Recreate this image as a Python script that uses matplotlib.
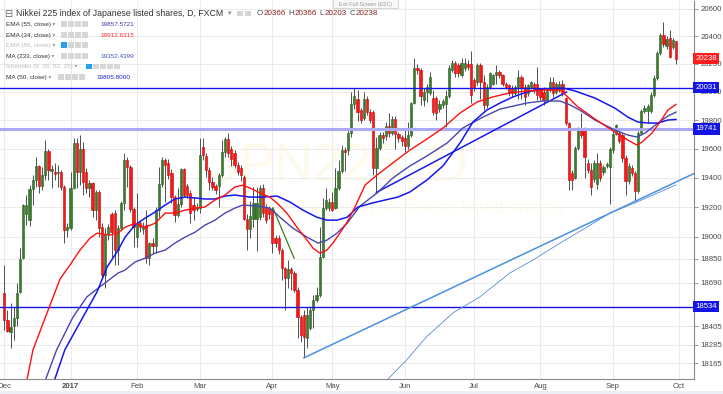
import numpy as np
import pandas as pd
import matplotlib
matplotlib.use("Agg")
import matplotlib.pyplot as plt
from matplotlib.patches import Rectangle
from matplotlib.ticker import FixedLocator, FixedFormatter, NullLocator, NullFormatter

plt.rcParams["font.family"] = ["Liberation Sans", "DejaVu Sans"]

# JPN225 daily candles (2 Dec 2016 .. 29 Sep 2017)
opens = [
    18624, 18447, 18369, 18408, 18460, 18631, 18855, 19150, 19111, 19323,
    19385, 19482, 19344, 19420, 19585, 19447, 19440, 19430, 19440, 19337,
    19043, 19057, 19330, 19641, 19440, 19600, 19440, 19330, 19364, 19179,
    19303, 19063, 18743, 19016, 19152, 19159, 18909, 19057, 19227, 19523,
    19475, 19186, 18996, 19090, 19050, 19077, 18855, 18956, 18936, 19179,
    19357, 19523, 19503, 19434, 19268, 19145, 19220, 19461, 19344, 19296,
    19214, 19186, 19193, 19613, 19551, 19454, 19371, 19344, 19344, 19420,
    19579, 19669, 19600, 19569, 19489, 19466, 19408, 19122, 19054, 19122,
    19122, 19130, 19330, 19193, 19193, 19186, 18990, 18990, 18909, 18790,
    18724, 18783, 18756, 18644, 18467, 18480, 18330, 18395, 18512, 18578,
    18611, 18862, 19193, 19193, 19234, 19193, 19330, 19447, 19592, 19592,
    19711, 19915, 19950, 19872, 19816, 19950, 19860, 19860, 19468, 19606,
    19697, 19690, 19760, 19711, 19808, 19704, 19680, 19676, 19620, 19700,
    19922, 20170, 20157, 19943, 20000, 19993, 19957, 19957, 19880, 19908,
    19915, 19972, 20157, 20206, 20190, 20120, 20170, 20200, 20200, 20085,
    20070, 20190, 20070, 19908, 20035, 20060, 20120, 20140, 20120, 20060,
    20050, 20030, 19990, 20035, 20106, 20035, 19990, 20035, 20060, 20060,
    20014, 20000, 19943, 20014, 20070, 20000, 20014, 20060, 19957, 19781,
    19430, 19400, 19606, 19746, 19732, 19503, 19454, 19392, 19357, 19500,
    19440, 19480, 19475, 19592, 19704, 19711, 19697, 19537, 19378, 19468,
    19434, 19310, 19711, 19865, 19865, 19865, 19979, 20100, 20280, 20410,
    20330, 20390, 20325, 20366,
]
highs = [
    18809, 18512, 18558, 18532, 18690, 18922, 19220, 19282, 19350, 19420,
    19544, 19489, 19475, 19662, 19600, 19489, 19503, 19489, 19454, 19350,
    19090, 19440, 19676, 19676, 19697, 19648, 19468, 19385, 19371, 19316,
    19316, 19090, 19057, 19084, 19166, 19179, 19077, 19241, 19572, 19544,
    19489, 19200, 19296, 19111, 19100, 19179, 18963, 18990, 19200, 19475,
    19544, 19537, 19530, 19460, 19282, 19330, 19468, 19468, 19357, 19316,
    19268, 19230, 19676, 19676, 19572, 19475, 19406, 19357, 19434, 19662,
    19683, 19711, 19620, 19590, 19510, 19489, 19420, 19150, 19240, 19337,
    19337, 19350, 19357, 19220, 19210, 19200, 19010, 19010, 18922, 18796,
    18842, 18796, 18770, 18664, 18480, 18512, 18532, 18530, 18611, 18664,
    19063, 19262, 19330, 19260, 19300, 19468, 19523, 19627, 19610, 19740,
    20000, 20030, 20014, 19890, 20000, 19970, 19880, 19872, 19683, 19720,
    19720, 19790, 19850, 19830, 19830, 19715, 19700, 19732, 19790, 19930,
    20240, 20200, 20170, 20030, 20060, 20140, 20014, 19970, 19940, 19950,
    20014, 20190, 20230, 20220, 20210, 20240, 20240, 20230, 20290, 20100,
    20210, 20210, 20120, 20060, 20145, 20130, 20190, 20160, 20130, 20070,
    20060, 20050, 20050, 20160, 20120, 20060, 20060, 20080, 20070, 20180,
    20030, 20035, 20030, 20106, 20106, 20070, 20080, 20085, 19965, 19790,
    19454, 19620, 19750, 19850, 19750, 19530, 19503, 19520, 19570, 19520,
    19490, 19510, 19610, 19730, 19774, 19740, 19710, 19560, 19500, 19490,
    19450, 19725, 19880, 19910, 19915, 20000, 20120, 20290, 20420, 20500,
    20400, 20445, 20390, 20366,
]
lows = [
    18382, 18369, 18265, 18317, 18408, 18624, 18849, 19077, 19070, 19214,
    19337, 19296, 19316, 19385, 19385, 19330, 19385, 19337, 19316, 18956,
    18996, 19043, 19323, 19330, 19350, 19282, 19296, 19268, 19131, 19111,
    18996, 18730, 18657, 18976, 18862, 18809, 18809, 19043, 19179, 19337,
    19166, 18929, 18929, 19030, 19016, 18822, 18809, 18890, 18889, 19131,
    19337, 19234, 19390, 19230, 19097, 19131, 19200, 19268, 19260, 19090,
    19111, 19170, 19159, 19523, 19406, 19316, 19316, 19290, 19200, 19406,
    19544, 19544, 19480, 19470, 19420, 19380, 19111, 18909, 18990, 19063,
    18900, 19111, 19130, 19090, 19120, 18889, 18930, 18880, 18711, 18512,
    18657, 18644, 18630, 18330, 18304, 18200, 18265, 18380, 18395, 18565,
    18598, 18855, 19179, 19170, 19170, 19186, 19316, 19434, 19450, 19560,
    19683, 19880, 19795, 19780, 19802, 19840, 19780, 19420, 19300, 19590,
    19640, 19660, 19680, 19700, 19600, 19650, 19620, 19580, 19600, 19680,
    19915, 20130, 19908, 19900, 19930, 19980, 19840, 19800, 19860, 19890,
    19750, 19960, 20140, 20110, 20110, 20110, 20150, 20160, 19920, 20010,
    20050, 19950, 19872, 19890, 20020, 20050, 20060, 20100, 20040, 20020,
    19970, 19965, 19980, 19950, 19950, 19908, 19970, 20020, 19990, 19943,
    19940, 19908, 19930, 20000, 19965, 19985, 20000, 19975, 19767, 19316,
    19316, 19390, 19590, 19676, 19400, 19430, 19282, 19370, 19323, 19380,
    19420, 19470, 19220, 19570, 19697, 19640, 19510, 19282, 19360, 19410,
    19240, 19296, 19697, 19850, 19780, 19850, 19965, 20085, 20265, 20325,
    20310, 20245, 20310, 20203,
]
closes = [
    18447, 18375, 18401, 18460, 18624, 18849, 19214, 19214, 19323, 19385,
    19482, 19344, 19420, 19585, 19454, 19461, 19427, 19440, 19337, 19043,
    19063, 19330, 19641, 19440, 19600, 19371, 19330, 19364, 19179, 19303,
    19057, 18743, 19016, 19063, 19030, 18909, 19057, 19227, 19523, 19475,
    19186, 19063, 19090, 19063, 19070, 18855, 18956, 18936, 19179, 19357,
    19523, 19489, 19420, 19268, 19145, 19220, 19461, 19282, 19282, 19159,
    19179, 19200, 19558, 19558, 19454, 19371, 19337, 19316, 19420, 19579,
    19669, 19572, 19530, 19489, 19443, 19420, 19122, 19054, 19140, 19227,
    19227, 19330, 19160, 19111, 19150, 18956, 18956, 18909, 18790, 18724,
    18783, 18756, 18644, 18467, 18350, 18337, 18480, 18512, 18578, 18611,
    18862, 19193, 19248, 19234, 19179, 19330, 19447, 19592, 19579, 19711,
    19915, 19972, 19860, 19802, 19950, 19860, 19802, 19468, 19606, 19697,
    19676, 19760, 19711, 19808, 19704, 19676, 19655, 19620, 19700, 19922,
    20170, 20157, 19972, 20000, 20035, 20110, 19860, 19850, 19915, 19936,
    19972, 20170, 20206, 20135, 20135, 20210, 20210, 20180, 19979, 20035,
    20190, 20070, 19908, 20035, 20135, 20120, 20140, 20120, 20060, 20035,
    19990, 19990, 20035, 20106, 20030, 19965, 20050, 20070, 20014, 19980,
    19965, 19943, 20014, 20070, 19990, 20060, 20060, 19990, 19781, 19385,
    19385, 19606, 19732, 19697, 19544, 19454, 19337, 19500, 19500, 19400,
    19475, 19496, 19600, 19704, 19767, 19655, 19537, 19378, 19482, 19434,
    19310, 19711, 19865, 19886, 19900, 19979, 20100, 20280, 20410, 20340,
    20380, 20250, 20375, 20238,
]

# indicator lines, read as (bar index, price) points
ema34_idx = [7.1, 9.1, 14.5, 17.7, 20.8, 24.0, 27.2, 29.4, 33.5, 36.0, 38.3, 41.4, 44.6, 47.8,
             51.0, 54.1, 57.3, 60.5, 63.6, 66.8, 70.0, 73.1, 75.7, 77.9, 81.1, 84.2, 86.5, 89.6,
             92.8, 96.0, 97.9, 100.1, 102.3, 104.2, 106.4, 108.7, 111.2, 114.4, 118.2, 123.2,
             128.6, 134.0, 139.1, 144.5, 149.9, 154.9, 160.3, 165.7, 172.1, 176.2, 178.4, 181.6,
             187.3, 193.6, 197.7, 200.6, 202.2, 205.4, 207.9, 210.4, 213]
ema34_val = [18050, 18252, 18544, 18717, 18809, 18909, 18990, 19023, 19010, 19023, 19063, 19090,
             19063, 19090, 19159, 19159, 19179, 19193, 19200, 19248, 19282, 19337, 19350, 19330,
             19296, 19268, 19227, 19159, 19063, 18976, 18922, 18889, 18909, 18956, 19023, 19097,
             19200, 19350, 19420, 19503, 19592, 19669, 19746, 19851, 19929, 19965, 19993, 20007,
             20014, 20014, 19971, 19900, 19809, 19718, 19662, 19627, 19648, 19711, 19788, 19872,
             19912]
ema55_idx = [12.9, 16.6, 21.8, 26.2, 30.3, 36.1, 38.3, 41.4, 44.6, 47.8, 51.0, 54.1, 57.3, 60.5,
             63.6, 66.8, 70.0, 73.1, 75.7, 80.1, 84.2, 87.4, 91.5, 96.0, 99.5, 102.3, 105.5, 108.7,
             112.8, 118.2, 123.2, 128.6, 134.0, 140.4, 145.4, 151.8, 157.2, 165.7, 170.8, 176.2,
             179.4, 182.5, 187.3, 193.6, 197.7, 200.6, 203.2, 207.3, 210.4, 213]
ema55_val = [18050, 18252, 18466, 18598, 18664, 18756, 18776, 18829, 18855, 18889, 18909, 18956,
             18996, 19030, 19077, 19111, 19159, 19193, 19214, 19207, 19193, 19131, 19057, 18996,
             18956, 18976, 19023, 19090, 19207, 19296, 19399, 19482, 19551, 19641, 19746, 19823,
             19879, 19922, 19936, 19936, 19908, 19872, 19802, 19732, 19697, 19683, 19711, 19781,
             19830, 19858]
ma50_idx = [15.8, 19.2, 26.2, 29.4, 32.6, 36.1, 38.3, 41.4, 44.6, 47.8, 51.0, 54.1, 57.3, 60.5,
            63.6, 66.8, 70.0, 73.1, 77.9, 82.0, 86.5, 90.6, 94.7, 99.1, 102.3, 105.5, 108.7, 112.1,
            116.6, 120.7, 124.8, 128.6, 134.0, 139.1, 144.5, 148.6, 153.0, 157.2, 161.3, 165.7,
            170.8, 177.2, 181.0, 187.3, 193.6, 197.7, 200.9, 204.1, 207.3, 210.4, 213]
ma50_val = [18050, 18252, 18512, 18631, 18796, 18909, 18996, 19077, 19124, 19166, 19214, 19255,
            19268, 19262, 19255, 19255, 19275, 19282, 19268, 19268, 19275, 19234, 19179, 19131,
            19111, 19111, 19131, 19200, 19227, 19248, 19268, 19303, 19385, 19482, 19641, 19788,
            19872, 19922, 19965, 20000, 20021, 20028, 20007, 19957, 19886, 19823, 19788, 19781,
            19781, 19802, 19806]
ma233_idx = [121.0, 127.6, 133.9, 142.3, 150.8, 160.3, 167.6, 176.2, 184.7, 192.0, 200.6, 207.9, 213]
ma233_val = [18050, 18187, 18337, 18493, 18598, 18756, 18842, 18956, 19063, 19159, 19234, 19303, 19352]

# drawn objects
support_idx, support_val = [95, 218.7], [18200, 19430]
may_trend_idx, may_trend_val = [118, 178.3], [19300, 20000]
apr_trend_idx, apr_trend_val = [85.2, 91.9], [19193, 18855]
levels = [20031, 19741, 18534]
level_colors = ["#1414e6", "#a9a9f5", "#1414e6"]
level_widths = [1.0, 2.2, 1.0]

price_ticks = [20600, 20400, 20200, 20000, 19800, 19600, 19400, 19200, 19000,
               18850, 18690, 18405, 18285, 18165]
tags = [20238, 20031, 19741, 18534]
tag_colors = ["#ff1c1c", "#1414e6", "#1414e6", "#1414e6"]
month_labels = ["Dec", "2017", "Feb", "Mar", "Apr", "May", "Jun", "Jul", "Aug", "Sep", "Oct"]

legend_names = ["EMA (55, close)", "EMA (34, close)", "EMA (89, close)", "MA (233, close)",
                "Ichimoku (9, 26, 52, 26)", "MA (50, close)"]
legend_values = ["19857.5721", "19912.6315", "", "19352.4399", "", "19805.8000"]
legend_colors = ["#3a3aa8", "#ff2a2a", "#bbbbbb", "#4257b2", "#bbbbbb", "#2323d8"]
ohlc = [("O", "20366"), ("H", "20366"), ("L", "20203"), ("C", "20238")]

dates = pd.bdate_range("2016-12-02", "2017-09-29")
dates = dates.drop(pd.to_datetime(["2017-01-02", "2017-04-14"]))

W, H = 723, 394
fig = plt.figure(figsize=(W / 100, H / 100), dpi=100)
ax = fig.add_axes([0, (H - 379) / H, 694 / W, 378 / H])

o = np.array(opens); hi = np.array(highs); lo = np.array(lows); c = np.array(closes)
x = np.arange(len(o))
up = c >= o
ax.vlines(x, lo, hi, color="#505050", lw=0.7, zorder=2)
body = np.maximum(np.abs(c - o), 5)
bottom = np.minimum(o, c)
ax.bar(x[up], body[up], bottom=bottom[up], width=0.7, color="#3b7d2f",
       edgecolor="#2a5d20", linewidth=0.4, zorder=3)
ax.bar(x[~up], body[~up], bottom=bottom[~up], width=0.7, color="#f41a1a",
       edgecolor="#c80000", linewidth=0.4, zorder=3)

for lv, col, lw in zip(levels, level_colors, level_widths):
    ax.axhline(lv, color=col, lw=lw, zorder=4)

ax.plot(ma233_idx, ma233_val, color="#5a8ad8", lw=0.6, zorder=4)
ax.plot(support_idx, support_val, color="#4a90e2", lw=1.1, zorder=4)
ax.plot(may_trend_idx, may_trend_val, color="#1a1aee", lw=1.1, zorder=4)
ax.plot(apr_trend_idx, apr_trend_val, color="#3a7d1a", lw=0.9, zorder=4)
ax.plot(ema55_idx, ema55_val, color="#4646b0", lw=1.0, zorder=5)
ax.plot(ma50_idx, ma50_val, color="#1616f0", lw=1.1, zorder=5)
ax.plot(ema34_idx, ema34_val, color="#ff1010", lw=1.0, zorder=5)

ax.set_yscale("log")
ax.set_ylim(18064, 20656)
ax.set_xlim(-1.36, 218.7)
ax.yaxis.tick_right()
ax.yaxis.set_major_locator(FixedLocator(price_ticks))
ax.yaxis.set_major_formatter(FixedFormatter([str(t) for t in price_ticks]))
ax.yaxis.set_minor_locator(NullLocator())
ax.yaxis.set_minor_formatter(NullFormatter())
ax.tick_params(axis="y", length=3, width=0.6, color="#888888", labelsize=5.6,
               labelcolor="#4a4a4a", pad=1.5)

month_pos = [0] + [i for i in range(1, len(dates)) if dates[i].month != dates[i - 1].month] + [len(dates)]
ax.set_xticks(month_pos)
ax.set_xticklabels(month_labels)
ax.tick_params(axis="x", length=0, labelsize=5.6, labelcolor="#4a4a4a", pad=3)
for lab in ax.get_xticklabels():
    if lab.get_text() == "2017":
        lab.set_fontweight("bold")

ax.grid(True, color="#ebebeb", lw=0.7)
ax.set_axisbelow(True)
for side in ["left", "top"]:
    ax.spines[side].set_visible(False)
for side in ["bottom", "right"]:
    ax.spines[side].set_color("#8a8a8a")
    ax.spines[side].set_linewidth(0.8)

# very faint watermark
ax.text(0.49, 0.56, "JPN225, D", transform=ax.transAxes, fontsize=38, color="#fefaec",
        ha="center", va="center", zorder=0.5)
ax.text(0.565, 0.45, "Nikkei 225 index of Japanese listed shares", transform=ax.transAxes,
        fontsize=13, color="#fefaec", ha="center", va="center", zorder=0.5)

for val, col in zip(tags, tag_colors):
    ax.text(1.002, val, str(val), transform=ax.get_yaxis_transform(), ha="left", va="center",
            fontsize=5.6, color="white", zorder=10, clip_on=False,
            bbox=dict(boxstyle="square,pad=0.3", fc=col, ec="none"))

# header overlay in pixel coordinates
ov = fig.add_axes([0, 0, 1, 1])
ov.set_xlim(0, W)
ov.set_ylim(H, 0)
ov.axis("off")


def icons(x0, y, n, first_blue=False, step=7):
    for k in range(n):
        col = "#2a9df4" if (first_blue and k == 0) else "#d6d6d6"
        ov.add_patch(Rectangle((x0 + k * step, y - 3), 5.5, 5.5, fc=col, ec="none"))


ov.text(4, 13.5, "\u229f", fontsize=7, color="#666666", va="center")
ov.text(16, 13.5, "Nikkei 225 index of Japanese listed shares, D, FXCM", fontsize=6.3,
        color="#333333", va="center")
ov.text(228, 13.5, "\u25be", fontsize=5, color="#888888", va="center")
icons(237, 13.5, 2, step=8)
prev = None
for letter, val in ohlc:
    if prev is None:
        t = ov.text(257, 13.5, letter, fontsize=5.8, color="#4a4a4a", va="center")
    else:
        t = ov.annotate(letter, xy=(1, 0.5), xycoords=prev, xytext=(3, 0),
                        textcoords="offset pixels", va="center", fontsize=5.8, color="#4a4a4a")
    prev = ov.annotate(val, xy=(1, 0.5), xycoords=t, va="center", fontsize=5.8, color="#8b2323")

ov.add_patch(Rectangle((333, -1), 65, 9, fc="#f7f7f7", ec="#d0d0d0", lw=0.6))
ov.text(365.5, 4, "Exit Full Screen (ESC)", fontsize=3.8, color="#9a9a9a", ha="center", va="center")

row_y = [24.3, 35.0, 45.3, 56.0, 66.7, 77.3]
for name, val, col, y in zip(legend_names, legend_values, legend_colors, row_y):
    greyed = val == ""
    tcol = "#bdbdbd" if greyed else "#333333"
    t = ov.text(6, y, name, fontsize=4.6, color=tcol, va="center")
    ov.annotate(" \u25be", xy=(1, 0.5), xycoords=t, va="center", fontsize=4, color="#999999")
    if name.startswith("Ichimoku"):
        icons(86, y, 5, first_blue=True)
    elif name.startswith("MA (50"):
        icons(58, y, 4)
    else:
        icons(61, y, 4, first_blue=greyed)
    if val:
        vx = 96 if name.startswith("MA (50") else 100
        ov.text(vx, y, val, fontsize=4.6, color=col, va="center")

ov.add_patch(Rectangle((0, 391), W, 3, fc="#eceef3", ec="none"))

fig.savefig("out.png", dpi=100, facecolor="white")
